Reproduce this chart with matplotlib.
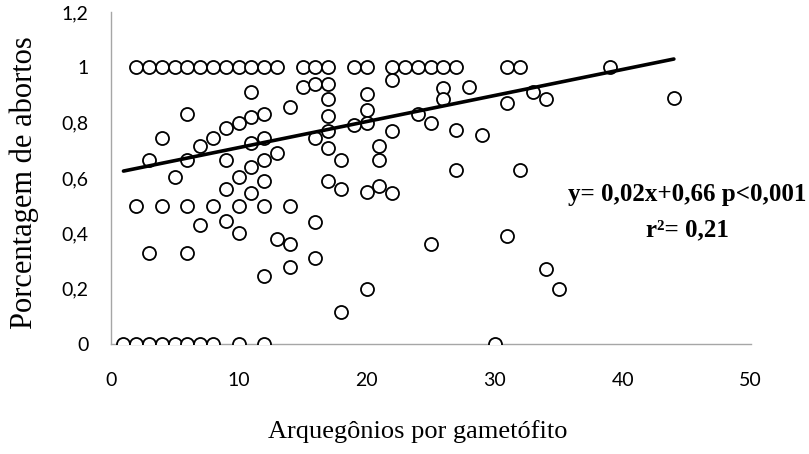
import matplotlib.pyplot as plt
from matplotlib.ticker import FuncFormatter

# archegonia per gametophyte vs. abortion rate
x_one = [2, 3, 4, 5, 6, 7, 8, 9, 10, 11, 12, 13, 15, 16, 17, 19, 20, 22, 23, 24, 25, 26, 27, 31, 32, 39]
x_zero = [1, 2, 3, 4, 5, 6, 7, 8, 10, 12, 30]

x_mid = [11, 15, 16, 17, 17, 17, 17, 16, 6, 14, 4, 12, 11, 10, 9, 8, 7,
         3, 6, 9, 11, 12, 13, 12, 11, 17, 18,
         5, 10, 12, 17, 9, 11, 18,
         2, 4, 6, 8, 10, 12, 14,
         7, 9, 10, 16, 13, 14, 16, 14, 12, 3, 6, 18,
         22, 26, 28, 26, 20, 20, 20, 19, 24, 25, 22, 27, 29, 31, 33, 34,
         21, 21, 27, 32, 20, 21, 22, 25, 31, 34, 35, 20, 44]
y_mid = [0.91, 0.93, 0.94, 0.94, 0.885, 0.825, 0.77, 0.745, 0.83, 0.855, 0.745, 0.83, 0.82, 0.80, 0.78, 0.745, 0.715,
         0.665, 0.665, 0.665, 0.725, 0.745, 0.69, 0.665, 0.64, 0.71, 0.665,
         0.605, 0.605, 0.59, 0.59, 0.56, 0.545, 0.56,
         0.50, 0.50, 0.50, 0.50, 0.50, 0.50, 0.50,
         0.43, 0.445, 0.40, 0.44, 0.38, 0.36, 0.31, 0.28, 0.245, 0.33, 0.33, 0.115,
         0.955, 0.925, 0.93, 0.885, 0.905, 0.845, 0.80, 0.79, 0.83, 0.80, 0.77, 0.775, 0.755, 0.87, 0.91, 0.885,
         0.715, 0.665, 0.63, 0.63, 0.55, 0.57, 0.545, 0.36, 0.39, 0.27, 0.20, 0.20, 0.89]

xs = x_one + x_zero + x_mid
ys = [1.0] * len(x_one) + [0.0] * len(x_zero) + y_mid

# fitted trend line endpoints
trend_x = [1, 44]
trend_y = [0.625, 1.03]

fig = plt.figure(figsize=(8.09, 4.54), dpi=100)
ax = fig.add_axes([0.1368, 0.2423, 0.7911, 0.7313])

ax.scatter(xs, ys, s=88, facecolors='white', edgecolors='black', linewidths=1.3, zorder=3)
ax.plot(trend_x, trend_y, color='black', linewidth=2.6, solid_capstyle='round', zorder=4)

ax.set_xlim(0, 50)
ax.set_ylim(0, 1.2)
ax.set_xticks([0, 10, 20, 30, 40, 50])
ax.set_yticks([0, 0.2, 0.4, 0.6, 0.8, 1.0, 1.2])
ax.yaxis.set_major_formatter(FuncFormatter(lambda v, p: ('%g' % round(v, 1)).replace('.', ',')))

for side in ['top', 'right']:
    ax.spines[side].set_visible(False)
for side in ['left', 'bottom']:
    ax.spines[side].set_color('#a6a6a6')
    ax.spines[side].set_linewidth(1.0)

ax.tick_params(axis='both', length=0, labelsize=14)
ax.tick_params(axis='y', pad=16)
ax.tick_params(axis='x', pad=20)
for lab in ax.get_xticklabels() + ax.get_yticklabels():
    lab.set_fontfamily('Lato')

# axis titles in pixel coordinates
fig.text(418 / 809, 1 - 432 / 454, 'Arquegônios por gametófito', ha='center', va='center',
         family='Liberation Serif', fontsize=19)
fig.text(24 / 809, 1 - 183 / 454, 'Porcentagem de abortos', ha='center', va='center',
         rotation=90, family='Liberation Serif', fontsize=22)

# regression summary
ax.text(687, 454 - 195, 'y= 0,02x+0,66 p<0,001', transform=None, ha='center', va='center',
        family='Liberation Serif', fontweight='bold', fontsize=18)
ax.text(687, 454 - 230, 'r²= 0,21', transform=None, ha='center', va='center',
        family='Liberation Serif', fontweight='bold', fontsize=18)

fig.savefig('out.png', dpi=100)
